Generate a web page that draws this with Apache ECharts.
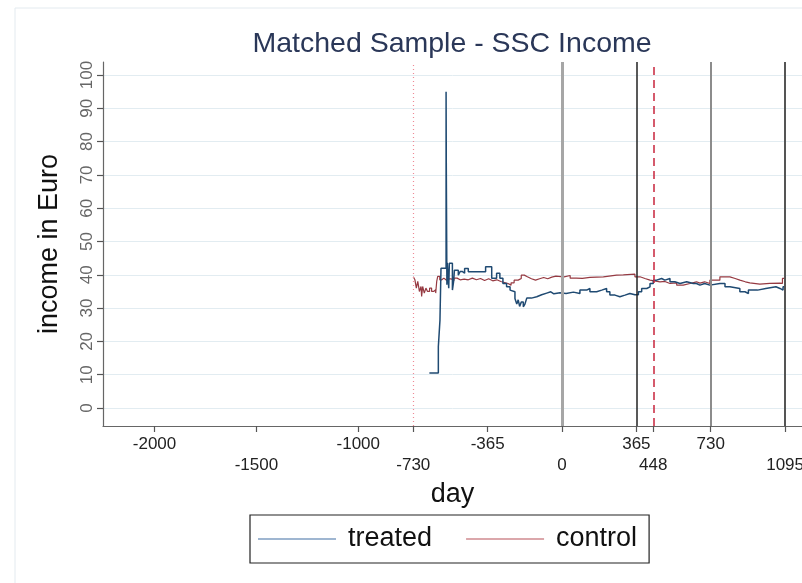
<!DOCTYPE html>
<html>
<head>
<meta charset="utf-8">
<script src="https://cdn.jsdelivr.net/npm/echarts@6/dist/echarts.min.js"></script>
<style>
html,body{margin:0;padding:0;background:#fff;}
#chart{width:802px;height:583px;}
</style>
</head>
<body>
<div id="chart"></div>
<script>
// ---- data ----
const treatedDay = [-651,-607,-599,-594,-569,-568,-565,-563,-556,-553,-538,-532,-528,-509,-500,-490,-478,-460,-375,-345,-321,-305,-290,-272,-255,-247,-231,-222,-215,-208,-200,-190,-182,-173,-150,-141,-124,-100,-75,-55,-40,-10,20,56,88,121,137,170,195,219,235,260,284,309,333,358,375,391,416,432,448,464,489,505,530,554,579,612,644,660,677,700,726,775,800,824,873,898,915,960,1000,1050,1070,1085,1095];
const treatedVal = [10.5,18.4,26.4,42,95,73.4,37,43.6,36,43.5,35.4,38,41.4,39.9,41,40.5,41.9,40.9,42.4,39,40.5,39,37.4,36.4,35.4,34.9,32.9,31.2,32.5,30.5,31.8,30.4,31.2,33,32.8,33.4,34,34.5,34.9,34.3,34.6,34.4,34.8,34.4,35.4,35.9,34.9,35.4,35.9,34.9,33.9,33.4,33.9,34.4,34,34,34.9,35.9,36.4,37.4,38.4,38.9,38.4,38.9,37.9,37.4,37.9,37.4,37.4,36.9,37.4,36.9,37.4,37.4,36.4,35.9,34.9,34.4,35.4,35.9,36.4,35.9,35.4,36.4,36.4];
const controlDay = [-730,-722,-715,-708,-700,-692,-689,-684,-676,-668,-660,-650,-640,-630,-620,-615,-610,-600,-590,-580,-570,-560,-545,-530,-515,-500,-480,-460,-440,-420,-400,-380,-360,-340,-320,-300,-265,-250,-235,-215,-200,-185,-170,-150,-130,-110,-90,-70,-50,-30,10,40,70,100,137,203,268,301,358,383,407,432,481,505,530,563,595,628,660,677,700,726,775,824,850,873,900,922,971,1020,1070,1082,1095];
const controlVal = [39.4,38.5,36,38,35,36.5,33.5,36.5,34.5,36,35,36,35,35.5,34.5,38,39.5,38.5,39,38.5,38,38.8,38.3,39,38.5,38.7,38.5,39,38.5,38.9,38.3,38.8,38.2,38.5,38,37.4,36.9,37.6,38.4,38.9,39.9,39.4,38.8,38.4,38.8,39.2,38.8,39.3,39.6,39.4,39.8,39,38.9,39.2,39.4,39.9,40,40.2,39.4,38.9,38.4,37.9,38,37.4,37.6,36.9,37.4,37.9,37.5,37.9,37.4,38.4,39.4,38.9,38.4,37.9,37.6,37.2,37.4,37.5,37.4,38.9,38.9];
const xTickValues = [-2000,-1500,-1000,-730,-365,0,365,448,730,1095];
const xLowerRow = [-1500,-730,0,448,1095];
const yTickValues = [0,10,20,30,40,50,60,70,80,90,100];
const refLineDays = [-730,0,365,448,730,1095];
const seriesNames = ['treated','control'];

// ---- styles ----
const refStyles = [
  {color:'#ee8a96', width:1.2, type:[1,3]},
  {color:'#a6a6a6', width:3, type:'solid'},
  {color:'#222222', width:1.5, type:'solid'},
  {color:'#c8243c', width:1.5, type:[8,5]},
  {color:'#8c8c8c', width:2, type:'solid'},
  {color:'#555555', width:2, type:'solid'}
];
const FONT = '"Liberation Sans", Arial, sans-serif';

const chart = echarts.init(document.getElementById('chart'), null, {renderer:'canvas'});
const pairs = (a,b) => a.map((d,i)=>[d,b[i]]);

chart.setOption({
  animation:false,
  backgroundColor:'#ffffff',
  textStyle:{fontFamily:FONT},
  graphic:[{type:'rect', shape:{x:15,y:8,width:820,height:600}, style:{fill:'none', stroke:'#e3eaef', lineWidth:1}, z:-10}],
  title:{
    text:'Matched Sample - SSC Income', left:447, textAlign:'center', top:25,
    textStyle:{fontFamily:FONT, fontSize:28.5, fontWeight:'normal', color:'#2a3758'}
  },
  legend:{
    left:250, top:515,
    data:[
      {name:seriesNames[0], itemStyle:{color:'#7f9ec2'}},
      {name:seriesNames[1], itemStyle:{color:'#cf8a8f'}}
    ],
    icon:'rect', itemWidth:78, itemHeight:1.5, itemGap:34,
    borderColor:'#222', borderWidth:1.2, padding:[10,12,10,8],
    textStyle:{fontFamily:FONT, fontSize:27, color:'#111', padding:[0,0,0,7], lineHeight:28}
  },
  grid:{left:103, right:0, top:62, bottom:157, containLabel:false, outerBoundsMode:'none'},
  xAxis:{
    type:'value', min:-2253, max:1178,
    name:'day', nameLocation:'middle', nameGap:48,
    nameTextStyle:{fontFamily:FONT, fontSize:27, color:'#111'},
    axisLine:{show:true, onZero:false, lineStyle:{color:'#666', width:1.2}},
    axisTick:{show:true, length:6, lineStyle:{color:'#555', width:1.2}, customValues:xTickValues},
    axisLabel:{
      customValues:xTickValues, margin:8, fontFamily:FONT, fontSize:17, color:'#222', lineHeight:21,
      hideOverlap:false, showMinLabel:true, showMaxLabel:true,
      formatter:function(v){ return xLowerRow.indexOf(v) >= 0 ? '\n' + v : String(v); }
    },
    splitLine:{show:false}
  },
  yAxis:{
    type:'value', min:-5.4, max:103.9,
    name:'income in Euro', nameLocation:'middle', nameGap:40, nameRotate:90,
    nameTextStyle:{fontFamily:FONT, fontSize:27, color:'#111'},
    axisLine:{show:true, onZero:false, lineStyle:{color:'#666', width:1.2}},
    axisTick:{show:true, length:6, lineStyle:{color:'#555', width:1.2}, customValues:yTickValues},
    axisLabel:{customValues:yTickValues, rotate:90, margin:7, fontFamily:FONT, fontSize:17, color:'#666'},
    splitLine:{show:true, lineStyle:{color:'#e2ecf1', width:1}}
  },
  series:[
    {
      name:seriesNames[0], type:'line', step:'end', showSymbol:false, symbol:'none',
      data:pairs(treatedDay, treatedVal),
      lineStyle:{color:'#1f4a72', width:1.5}, itemStyle:{color:'#1f4a72'}, z:3
    },
    {
      name:seriesNames[1], type:'line', step:'end', showSymbol:false, symbol:'none',
      data:pairs(controlDay, controlVal),
      lineStyle:{color:'#963a42', width:1.2}, itemStyle:{color:'#963a42'}, z:2,
      markLine:{
        silent:true, symbol:['none','none'], label:{show:false}, animation:false,
        data:refLineDays.map((d,i)=>({xAxis:d, lineStyle:refStyles[i]}))
      }
    }
  ]
});
</script>
</body>
</html>
